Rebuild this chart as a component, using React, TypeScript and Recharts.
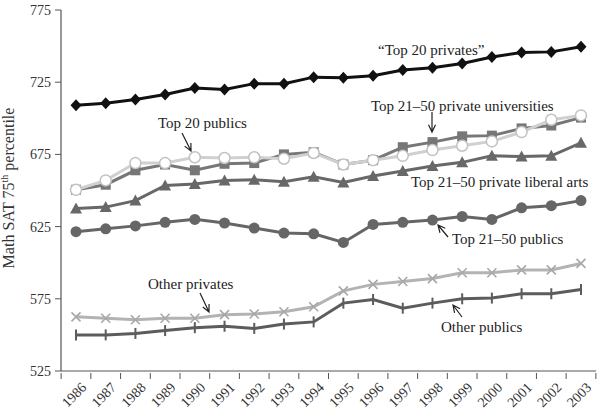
import React from "react";
import { LineChart, Line, XAxis, YAxis } from "recharts";

const years = ["1986", "1987", "1988", "1989", "1990", "1991", "1992", "1993", "1994", "1995", "1996", "1997", "1998", "1999", "2000", "2001", "2002", "2003"];
const top20Privates = [709, 710.5, 713, 716.5, 721, 720, 724, 724, 728.5, 728, 729.5, 733.5, 735, 738, 742.5, 745.5, 746, 749.5];
const top2150PrivUniv = [650.5, 654, 664, 668, 664, 668.5, 669, 675, 676.5, 668, 671, 680, 683.5, 687.5, 688, 693, 695, 700.5];
const top20Publics = [650.5, 657, 669, 669, 673, 672.5, 673, 672, 676, 668, 671, 674, 678, 681, 684, 690.5, 699, 702];
const top2150LibArts = [637.5, 638.5, 643, 653.5, 654.5, 657, 657.5, 656, 659.5, 655.5, 660, 663.5, 667, 669.5, 674, 673.5, 674, 683];
const top2150Publics = [621.5, 623.5, 625.5, 628, 630, 627.5, 624, 620.5, 620, 614, 626.5, 628, 629.5, 632, 630, 638, 639.5, 643];
const otherPrivates = [562.5, 561.5, 560.5, 561.5, 561.5, 564, 564.5, 566, 569.5, 580.5, 585, 587, 589, 593, 593, 595, 595, 599.5];
const otherPublics = [550, 550, 551, 553, 555, 556, 554.5, 557.5, 559, 572, 574.5, 568.5, 572, 575, 575.5, 578.5, 578.5, 581.5];
const yTicks = [525, 575, 625, 675, 725, 775];

const data = years.map((year, i) => ({
  year,
  top20Privates: top20Privates[i],
  top2150PrivUniv: top2150PrivUniv[i],
  top20Publics: top20Publics[i],
  top2150LibArts: top2150LibArts[i],
  top2150Publics: top2150Publics[i],
  otherPrivates: otherPrivates[i],
  otherPublics: otherPublics[i],
}));

const FONT = "'Liberation Serif', 'DejaVu Serif', serif";
const HALF = 14.86; // half category width, for boundary tick marks

const diamond = (fill: string) => (p: any) => (
  <path key={p.index} d={`M${p.cx},${p.cy - 6}L${p.cx + 5.5},${p.cy}L${p.cx},${p.cy + 6}L${p.cx - 5.5},${p.cy}Z`} fill={fill} />
);
const square = (fill: string) => (p: any) => (
  <rect key={p.index} x={p.cx - 5} y={p.cy - 5} width={10} height={10} fill={fill} />
);
const triangle = (fill: string) => (p: any) => (
  <path key={p.index} d={`M${p.cx},${p.cy - 6}L${p.cx + 6},${p.cy + 5}L${p.cx - 6},${p.cy + 5}Z`} fill={fill} />
);
const circle = (fill: string, stroke?: string) => (p: any) => (
  <circle key={p.index} cx={p.cx} cy={p.cy} r={5.5} fill={fill} stroke={stroke || "none"} strokeWidth={1.5} />
);
const cross = (stroke: string) => (p: any) => (
  <path key={p.index} d={`M${p.cx - 4.5},${p.cy - 4.5}L${p.cx + 4.5},${p.cy + 4.5}M${p.cx + 4.5},${p.cy - 4.5}L${p.cx - 4.5},${p.cy + 4.5}`} stroke={stroke} strokeWidth={1.6} />
);
const plus = (stroke: string) => (p: any) => (
  <path key={p.index} d={`M${p.cx},${p.cy - 5.5}L${p.cx},${p.cy + 5.5}`} stroke={stroke} strokeWidth={2} />
);

const XTick = (props: any) => {
  const { x, y, payload, index } = props;
  return (
    <g>
      {index === 0 && <line x1={x - HALF} y1={y - 6} x2={x - HALF} y2={y} stroke="#555" />}
      <line x1={x + HALF} y1={y - 6} x2={x + HALF} y2={y} stroke="#555" />
      <text
        x={x + 9}
        y={y + 7}
        transform={`rotate(-45 ${x + 9} ${y + 7})`}
        textAnchor="end"
        dominantBaseline="middle"
        fontSize={14}
        fontFamily={FONT}
        fill="#333"
      >
        {payload.value}
      </text>
    </g>
  );
};

const labels = [
  { text: "\u201cTop 20 privates\u201d", x: 378, y: 55 },
  { text: "Top 21\u201350 private universities", x: 371, y: 111 },
  { text: "Top 20 publics", x: 158, y: 128 },
  { text: "Top 21\u201350 private liberal arts", x: 411, y: 187 },
  { text: "Top 21\u201350 publics", x: 452, y: 244 },
  { text: "Other privates", x: 148, y: 289 },
  { text: "Other publics", x: 441, y: 332 },
];

// arrows: [from, to] where the head is drawn at "to"
const arrows = [
  [432, 112, 432, 132],
  [182, 133, 191, 151],
  [448, 237, 438, 225],
  [200, 293, 209, 312],
  [462, 317, 453, 305],
];

const arrowPath = (x1: number, y1: number, x2: number, y2: number) => {
  const a = Math.atan2(y2 - y1, x2 - x1);
  const l = 8;
  const s = 0.45;
  const ax = x2 - l * Math.cos(a - s);
  const ay = y2 - l * Math.sin(a - s);
  const bx = x2 - l * Math.cos(a + s);
  const by = y2 - l * Math.sin(a + s);
  return `M${x1},${y1}L${x2},${y2}M${ax},${ay}L${x2},${y2}L${bx},${by}`;
};

export default function App() {
  return (
    <div style={{ position: "absolute", left: 0, top: 0, width: 601, height: 411, background: "#fff" }}>
      <LineChart width={601} height={411} data={data} margin={{ top: 10, right: 5, bottom: 0, left: 0 }}>
        <XAxis
          dataKey="year"
          padding={{ left: 15, right: 15 }}
          interval={0}
          tickLine={false}
          axisLine={{ stroke: "#555", strokeWidth: 1.2 }}
          tick={<XTick />}
          height={40}
        />
        <YAxis
          domain={[525, 775]}
          ticks={yTicks}
          width={61}
          tickSize={6}
          tickMargin={4}
          axisLine={{ stroke: "#555", strokeWidth: 1.2 }}
          tickLine={{ stroke: "#555" }}
          tick={{ fontSize: 14, fontFamily: FONT, fill: "#333" }}
        />
        <Line dataKey="otherPublics" stroke="#5c5c5c" strokeWidth={3} dot={plus("#5c5c5c")} isAnimationActive={false} />
        <Line dataKey="otherPrivates" stroke="#b3b3b3" strokeWidth={3} dot={cross("#a8a8a8")} isAnimationActive={false} />
        <Line dataKey="top2150Publics" stroke="#666" strokeWidth={3} dot={circle("#666")} isAnimationActive={false} />
        <Line dataKey="top2150LibArts" stroke="#686868" strokeWidth={3} dot={triangle("#686868")} isAnimationActive={false} />
        <Line dataKey="top2150PrivUniv" stroke="#777" strokeWidth={3} dot={square("#777")} isAnimationActive={false} />
        <Line dataKey="top20Publics" stroke="#d0d0d0" strokeWidth={3} dot={circle("#fff", "#c2c2c2")} isAnimationActive={false} />
        <Line dataKey="top20Privates" stroke="#111" strokeWidth={3} dot={diamond("#111")} isAnimationActive={false} />
      </LineChart>
      <svg width={601} height={411} style={{ position: "absolute", left: 0, top: 0, pointerEvents: "none" }}>
        <text
          x={14}
          y={188}
          transform="rotate(-90 14 188)"
          textAnchor="middle"
          fontSize={16}
          fontFamily={FONT}
          fill="#333"
        >
          Math SAT 75
          <tspan fontSize={10} dy={-6}>th</tspan>
          <tspan dy={6}> percentile</tspan>
        </text>
        {labels.map((l) => (
          <text key={l.text} x={l.x} y={l.y} fontSize={15} fontFamily={FONT} fill="#222">
            {l.text}
          </text>
        ))}
        {arrows.map((a, i) => (
          <path key={i} d={arrowPath(a[0], a[1], a[2], a[3])} stroke="#222" strokeWidth={1.2} fill="none" />
        ))}
      </svg>
    </div>
  );
}
